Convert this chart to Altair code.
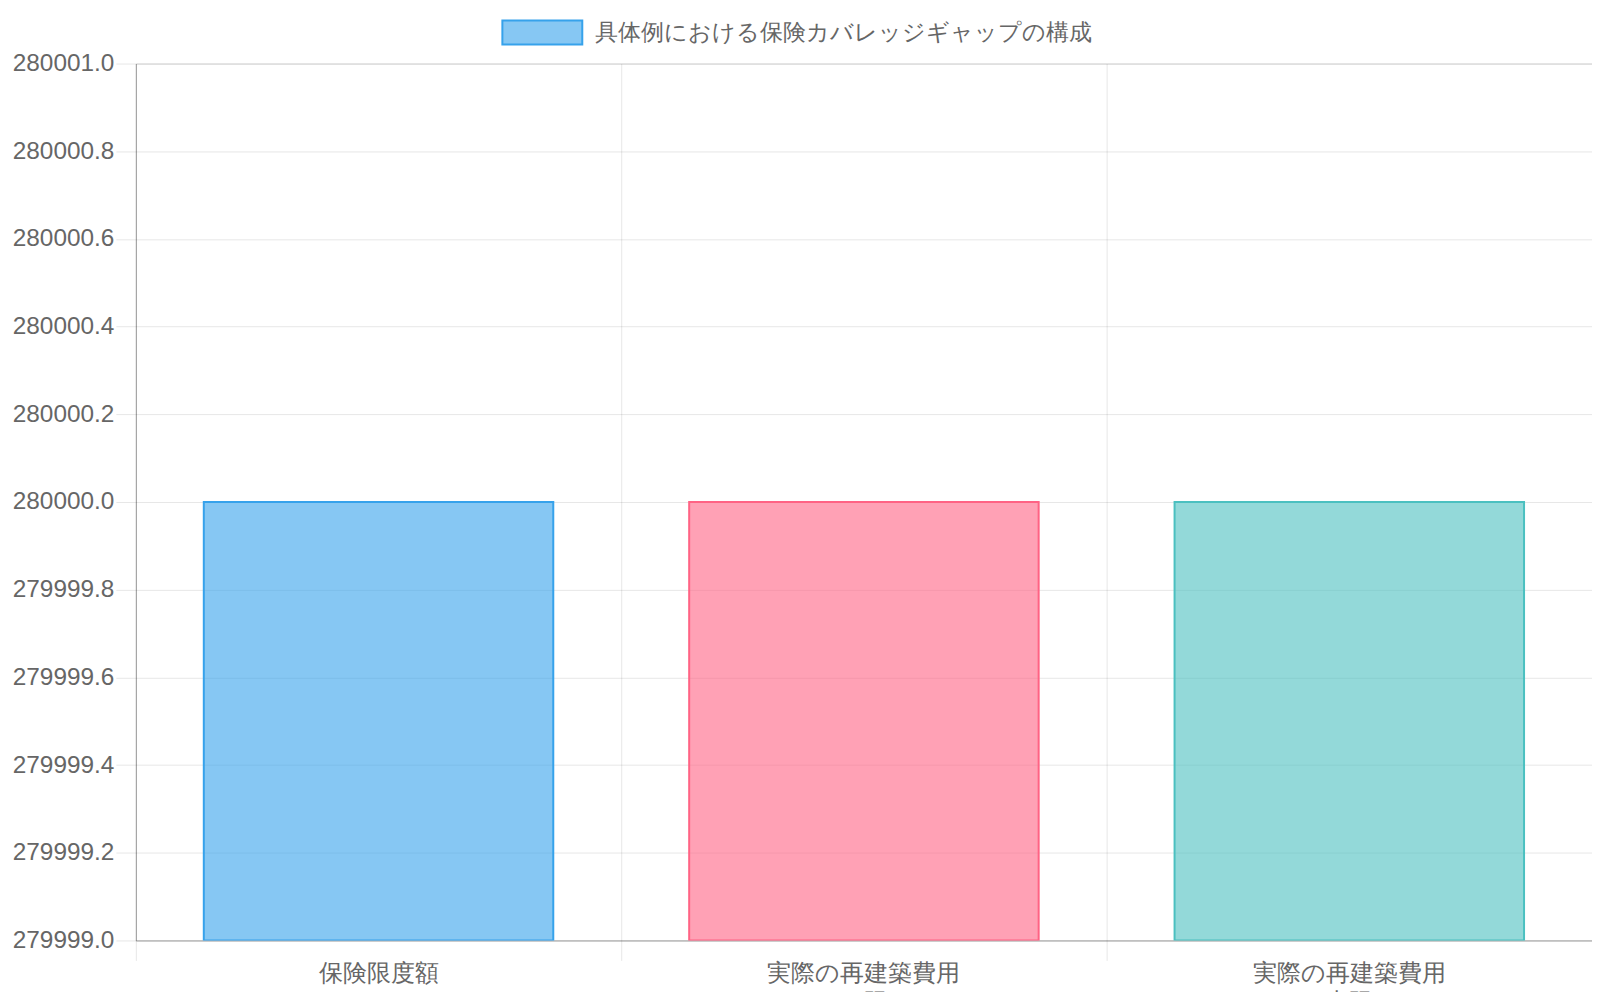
import altair as alt
import pandas as pd

categories = ["保険限度額\n（80%ルール）", "実際の再建築費用\n（下限）", "実際の再建築費用\n（上限）"]
values = [280000, 280000, 280000]
fill_colors = ["rgba(54,162,235,0.6)", "rgba(255,99,132,0.6)", "rgba(75,192,192,0.6)"]
stroke_colors = ["rgb(54,162,235)", "rgb(255,99,132)", "rgb(75,192,192)"]
series_label = "具体例における保険カバレッジギャップの構成"
y_min, y_max = 279999.0, 280001.0
y_ticks = [279999.0, 279999.2, 279999.4, 279999.6, 279999.8,
           280000.0, 280000.2, 280000.4, 280000.6, 280000.8, 280001.0]

df = pd.DataFrame({
    "category": categories,
    "value": values,
    "base": [y_min] * len(values),
    "stroke": stroke_colors,
})

FONT = "Helvetica Neue, Helvetica, Arial, sans-serif"
GRID = "rgba(0,0,0,0.1)"
AXIS_LINE = "rgba(0,0,0,0.25)"
W, H = 1458, 878

chart = alt.Chart(df).mark_bar(
    width={"band": 0.72}, strokeWidth=2, clip=True
).encode(
    x=alt.X("category:N", sort=categories, title=None,
            scale=alt.Scale(paddingInner=0, paddingOuter=0),
            axis=alt.Axis(
                bandPosition=0, grid=True, gridColor=GRID, tickColor=GRID,
                tickSize=20, domainColor=AXIS_LINE, labelAngle=0,
                labelPadding=1, labelLimit=0,
                labelExpr="split(datum.label, '\\n')",
                labelLineHeight=29, labelFontSize=24, labelColor="#666",
                labelFont=FONT)),
    y=alt.Y("value:Q", title=None,
            scale=alt.Scale(domain=[y_min, y_max], zero=False, nice=False),
            axis=alt.Axis(values=y_ticks, format=".1f", gridColor=GRID,
                          tickColor=GRID, tickSize=20, domainColor=AXIS_LINE,
                          labelPadding=2, labelFontSize=24.4, labelColor="#666",
                          labelFont=FONT)),
    y2="base:Q",
    color=alt.Color("category:N", sort=categories,
                    scale=alt.Scale(domain=categories, range=fill_colors),
                    legend=alt.Legend(
                        values=[categories[0]], title=None, orient="none",
                        legendX=366, legendY=-72, padding=0,
                        labelExpr=f"'{series_label}'",
                        symbolType="M-1,-0.3H1V0.3H-1Z", symbolSize=6400,
                        symbolStrokeColor=stroke_colors[0], symbolStrokeWidth=2,
                        symbolOpacity=1, labelOffset=12,
                        labelFontSize=23.4, labelColor="#666", labelFont=FONT,
                        labelLimit=0)),
    stroke=alt.Stroke("stroke:N", scale=None),
).properties(
    width=W, height=H,
    autosize=alt.AutoSizeParams(type="none"),
    padding={"left": 128, "top": 55, "right": 0, "bottom": 51},
).configure_view(
    stroke=GRID, strokeWidth=1
).configure(background="white")

chart.save("out.html", embed_options={"renderer": "svg", "actions": False})
